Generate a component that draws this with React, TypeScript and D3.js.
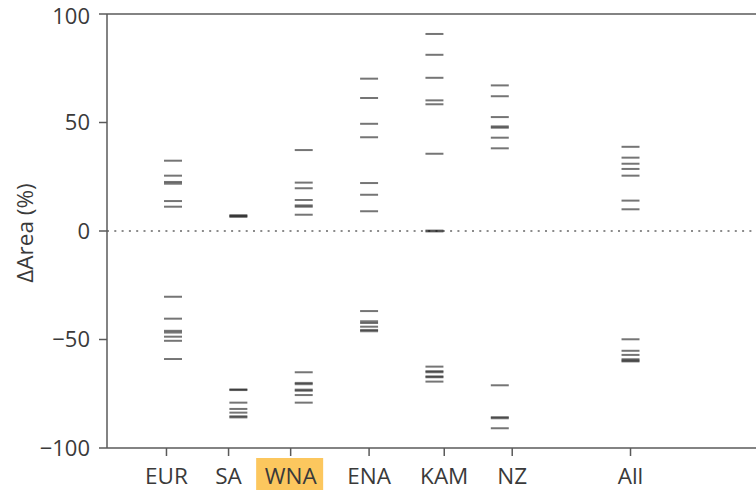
import React from 'react';
import * as d3 from 'd3';

// region names, the column slot where the dashes sit, and where the tick/label sits (slot units)
const regions = ['EUR', 'SA', 'WNA', 'ENA', 'KAM', 'NZ', 'All'];
const slots = [0, 1, 2, 3, 4, 5, 7];
const labelPos = [-0.1, 0.85, 1.8, 3.0, 4.15, 5.19, 7.0];
const highlighted = 'WNA';

// change in area (%) per model
const eur = [32.4, 25.5, 22.6, 21.8, 13.8, 11.2, -30.3, -40.4, -46.0, -46.8, -48.7, -50.6, -59.0];
const sa = [7.3, 6.9, 6.5, -73.3, -73.0, -79.1, -82.0, -83.7, -85.4, -85.9];
const wna = [37.3, 22.3, 19.7, 14.3, 11.8, 11.2, 7.5, -65.1, -70.0, -70.6, -73.1, -73.6, -75.6, -79.1];
const ena = [70.2, 61.3, 49.4, 43.2, 22.1, 16.7, 9.1, -36.9, -41.6, -42.4, -44.1, -45.6, -46.2];
const kam = [90.8, 81.2, 70.6, 60.2, 58.4, 35.6, 0.2, -0.2, -62.5, -64.6, -65.1, -67.0, -67.4, -69.4];
const nz = [67.1, 62.1, 52.5, 48.2, 47.6, 43.0, 38.1, -71.1, -85.8, -86.3, -90.9];
const all = [38.8, 33.8, 31.0, 28.6, 25.5, 14.0, 10.0, -49.9, -55.2, -57.1, -59.1, -59.7, -60.1];
const series = [eur, sa, wna, ena, kam, nz, all];

const yTicks = [-100, -50, 0, 50, 100];

const W = 756;
const H = 494;
const font = '"Open Sans", "Noto Sans", sans-serif';
const axisColor = '#5a5a5a';
const textColor = '#3a3a3a';

export default function App() {
  const x = d3.scaleLinear().domain([-1.01, 8.92]).range([107, 756]);
  const y = d3.scaleLinear().domain([-100, 100]).range([448, 14]);
  const half = 0.1375;

  return (
    <div style={{ position: 'absolute', left: 0, top: 0 }}>
      <svg width={W} height={H} style={{ display: 'block', background: '#fff' }}>
        {/* zero line */}
        <line
          x1={x.range()[0]}
          x2={W}
          y1={y(0)}
          y2={y(0)}
          stroke="#666"
          strokeWidth={1.7}
          strokeDasharray="2 5.3"
        />

        {/* dashes */}
        {series.map((vals, i) =>
          vals.map((v, j) => (
            <line
              key={regions[i] + j}
              x1={x(slots[i] - half)}
              x2={x(slots[i] + half)}
              y1={y(v)}
              y2={y(v)}
              stroke="#111"
              strokeOpacity={0.58}
              strokeWidth={2}
            />
          ))
        )}

        {/* frame */}
        <line x1={x.range()[0]} x2={W} y1={y(100)} y2={y(100)} stroke={axisColor} strokeWidth={1.5} />
        <line x1={x.range()[0]} x2={W} y1={y(-100)} y2={y(-100)} stroke={axisColor} strokeWidth={1.5} />
        <line x1={x.range()[0]} x2={x.range()[0]} y1={y(100)} y2={y(-100)} stroke={axisColor} strokeWidth={1.5} />

        {/* y axis */}
        {yTicks.map(t => (
          <g key={t}>
            <line x1={x.range()[0] - 8} x2={x.range()[0]} y1={y(t)} y2={y(t)} stroke={axisColor} strokeWidth={1.5} />
            <text
              x={90}
              y={y(t)}
              dy={t === 100 ? '0.46em' : '0.36em'}
              textAnchor="end"
              fontFamily={font}
              fontSize={22}
              fill={textColor}
            >
              {t < 0 ? '\u2212' + Math.abs(t) : t}
            </text>
          </g>
        ))}
        <text
          transform={`translate(33,${y(0) + 2}) rotate(-90)`}
          textAnchor="middle"
          fontFamily={font}
          fontSize={22.5}
          fill={textColor}
        >
          ΔArea (%)
        </text>

        {/* x axis */}
        {regions.map((r, i) => {
          const px = x(labelPos[i]);
          return (
            <g key={r}>
              <line x1={px} x2={px} y1={y(-100)} y2={y(-100) + 8} stroke={axisColor} strokeWidth={1.5} />
              {r === highlighted && (
                <rect x={px - 34.5} y={458} width={67} height={32} fill="#fcc75e" />
              )}
              <text
                x={px}
                y={476}
                dy="0.36em"
                textAnchor="middle"
                fontFamily={font}
                fontSize={22.5}
                fill={textColor}
              >
                {r}
              </text>
            </g>
          );
        })}
      </svg>
    </div>
  );
}
